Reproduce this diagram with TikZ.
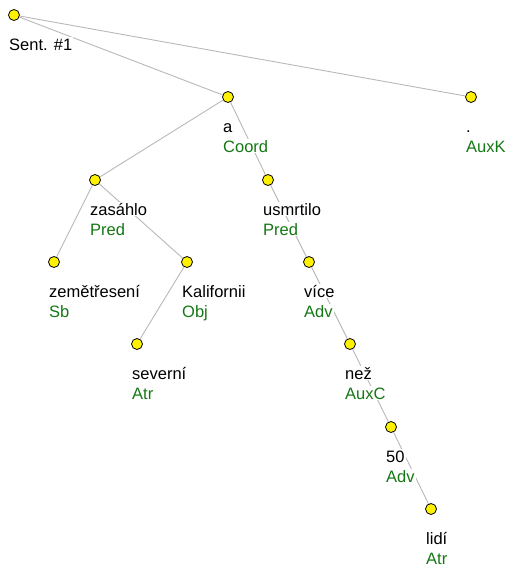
\documentclass[tikz,border=0pt]{standalone}
\usepackage{fontspec}
\setmainfont{Liberation Sans}
\definecolor{afun}{RGB}{20,120,20}
\tikzset{
  tn/.style={circle, draw=black, fill=yellow, minimum size=11pt, inner sep=0pt, line width=0.8pt},
  ed/.style={draw=black!28, line width=0.9pt},
  wd/.style={anchor=base west, fill=white, inner sep=1pt, font=\fontsize{16.5}{20}\selectfont, text=black},
  fn/.style={wd, text=afun},
}
\begin{document}
\begin{tikzpicture}[x=1pt,y=-1pt]
\useasboundingbox (0,0) rectangle (508,566);
% tree nodes
\node[tn] (root) at (14,15) {};
\node[tn] (a) at (228,97) {};
\node[tn] (dot) at (471,97) {};
\node[tn] (zas) at (95,180) {};
\node[tn] (usm) at (268,180) {};
\node[tn] (zem) at (54,262) {};
\node[tn] (kal) at (187,262) {};
\node[tn] (sev) at (137,344) {};
\node[tn] (vic) at (309,262) {};
\node[tn] (nez) at (350,344) {};
\node[tn] (fif) at (391,427) {};
\node[tn] (lid) at (431,509) {};
% edges
\draw[ed] (root) -- (a);
\draw[ed] (root) -- (dot);
\draw[ed] (a) -- (zas);
\draw[ed] (a) -- (usm);
\draw[ed] (zas) -- (zem);
\draw[ed] (zas) -- (kal);
\draw[ed] (kal) -- (sev);
\draw[ed] (usm) -- (vic);
\draw[ed] (vic) -- (nez);
\draw[ed] (nez) -- (fif);
\draw[ed] (fif) -- (lid);
% labels
\node[wd] (rootw) at (8,50) {Sent. \#1};
\node[wd] (aw) at (222,132) {a};
\node[fn] (al) at (222,152) {Coord};
\node[wd] (dotw) at (465,132) {.};
\node[fn] (dotl) at (465,152) {AuxK};
\node[wd] (zasw) at (89,215) {zasáhlo};
\node[fn] (zasl) at (89,235) {Pred};
\node[wd] (usmw) at (262,215) {usmrtilo};
\node[fn] (usml) at (262,235) {Pred};
\node[wd] (zemw) at (48,297) {zemětřesení};
\node[fn] (zeml) at (48,317) {Sb};
\node[wd] (kalw) at (181,297) {Kalifornii};
\node[fn] (kall) at (181,317) {Obj};
\node[wd] (sevw) at (131,379) {severní};
\node[fn] (sevl) at (131,399) {Atr};
\node[wd] (vicw) at (303,297) {více};
\node[fn] (vicl) at (303,317) {Adv};
\node[wd] (nezw) at (344,379) {než};
\node[fn] (nezl) at (344,399) {AuxC};
\node[wd] (fifw) at (385,462) {50};
\node[fn] (fifl) at (385,482) {Adv};
\node[wd] (lidw) at (425,544) {lidí};
\node[fn] (lidl) at (425,564) {Atr};
\end{tikzpicture}
\end{document}
